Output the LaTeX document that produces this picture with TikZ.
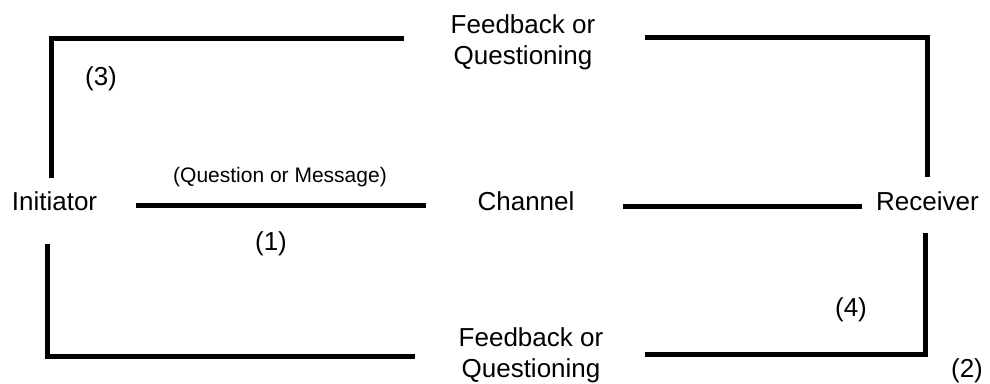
\documentclass[tikz,border=0pt]{standalone}
\usepackage{fontspec}
\setmainfont{Liberation Sans}
\begin{document}
\begin{tikzpicture}[x=1pt,y=-1pt,
  lbl/.style={inner sep=0pt,anchor=base,font=\fontsize{26}{31}\selectfont},
  small/.style={inner sep=0pt,anchor=base,font=\fontsize{21}{25}\selectfont},
  link/.style={line width=5pt,line cap=butt,line join=miter}]
\useasboundingbox (0,0) rectangle (990,383);

% parties and channel
\node[lbl] (init) at (54.5,210) {Initiator};
\node[lbl] (chan) at (526,210) {Channel};
\node[lbl] (recv) at (927.5,210) {Receiver};

% feedback labels
\node[lbl] (fbtA) at (523,33) {Feedback or};
\node[lbl] (fbtB) at (523,64) {Questioning};
\node[lbl] (fbbA) at (531,346) {Feedback or};
\node[lbl] (fbbB) at (531,377) {Questioning};

% step numbers and message label
\node[small] (msg) at (280,182) {(Question or Message)};
\node[lbl] (n1) at (271,250) {(1)};
\node[lbl] (n2) at (967,377.5) {(2)};
\node[lbl] (n3) at (101,85) {(3)};
\node[lbl] (n4) at (851,316) {(4)};

% line end points
\coordinate (icA) at (136,205);
\coordinate (icB) at (426,205);
\coordinate (crA) at (623,206);
\coordinate (crB) at (862,206);

\coordinate (tlA) at (51,178);
\coordinate (tlC) at (51,38);
\coordinate (tlB) at (404,38);

\coordinate (trA) at (645,37);
\coordinate (trC) at (927,37);
\coordinate (trB) at (927,177);

\coordinate (blA) at (47,244);
\coordinate (blC) at (47,356);
\coordinate (blB) at (415,356);

\coordinate (brA) at (925,233);
\coordinate (brC) at (925,354);
\coordinate (brB) at (645,354);

% forward path
\draw[link] (icA) -- (icB);
\draw[link] (crA) -- (crB);

% feedback loops
\draw[link] (tlA) -- (tlC) -- (tlB);
\draw[link] (trA) -- (trC) -- (trB);
\draw[link] (blA) -- (blC) -- (blB);
\draw[link] (brA) -- (brC) -- (brB);
\end{tikzpicture}
\end{document}
